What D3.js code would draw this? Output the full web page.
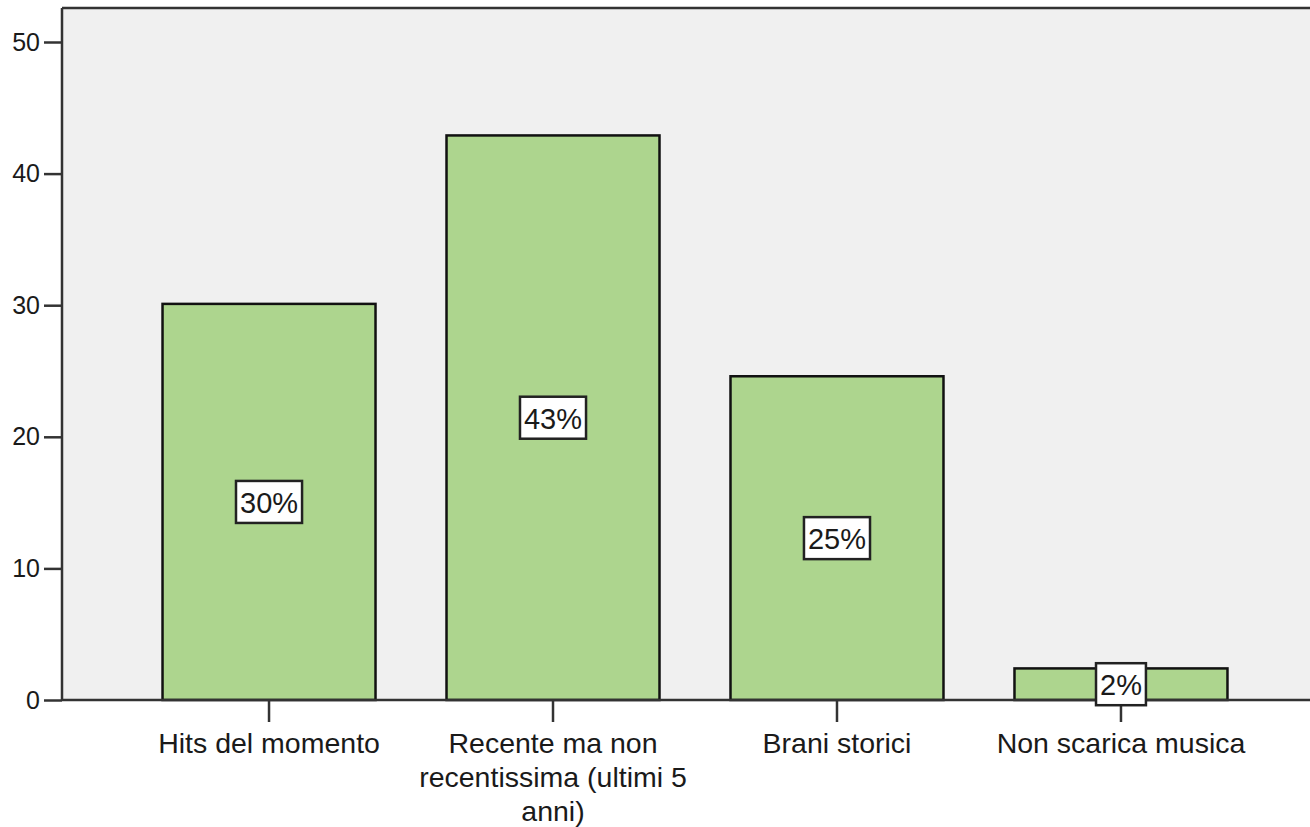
<!DOCTYPE html>
<html><head><meta charset="utf-8">
<script src="https://cdn.jsdelivr.net/npm/d3@7"></script>
<style>
html,body{margin:0;padding:0;background:#fff;}
svg{display:block;}
text{font-family:"Liberation Sans",Arial,sans-serif;fill:#1a1a1a;}
</style></head>
<body>
<svg id="chart" width="1310" height="827"></svg>
<script>
const categories = ["Hits del momento", "Recente ma non recentissima (ultimi 5 anni)", "Brani storici", "Non scarica musica"];
const categoryLines = [["Hits del momento"], ["Recente ma non", "recentissima (ultimi 5", "anni)"], ["Brani storici"], ["Non scarica musica"]];
const values = [30.1, 42.9, 24.6, 2.4];
const percentLabels = ["30%", "43%", "25%", "2%"];
const yTicks = [0, 10, 20, 30, 40, 50];

const svg = d3.select("#chart");
const plotLeft = 62, plotTop = 8, plotRight = 1328, plotBottom = 700;
const FONT = "Liberation Sans, Arial, sans-serif";

const x = d3.scaleBand().domain(categories).range([plotLeft, plotRight]).paddingInner(0.25).paddingOuter(0.354);
const y = d3.scaleLinear().domain([0, 50]).range([plotBottom, 42]);

// plot background
svg.append("rect").attr("x", plotLeft).attr("y", plotTop)
  .attr("width", 1310 - plotLeft + 10).attr("height", plotBottom - plotTop)
  .attr("fill", "#f0f0f0");

// bars
svg.selectAll("rect.bar").data(values).join("rect")
  .attr("class", "bar")
  .attr("x", (d, i) => x(categories[i]))
  .attr("y", d => y(d))
  .attr("width", x.bandwidth())
  .attr("height", d => y(0) - y(d))
  .attr("fill", "#add58e")
  .attr("stroke", "#111")
  .attr("stroke-width", 2.5);

// frame lines
svg.append("line").attr("x1", plotLeft).attr("x2", 1310).attr("y1", plotTop).attr("y2", plotTop)
  .attr("stroke", "#333").attr("stroke-width", 2.5);
svg.append("line").attr("x1", plotLeft).attr("x2", plotLeft).attr("y1", plotTop).attr("y2", plotBottom)
  .attr("stroke", "#333").attr("stroke-width", 2.5);

// y axis
const yAxis = d3.axisLeft(y).tickValues(yTicks).tickSize(18).tickPadding(4).tickSizeOuter(0);
const gy = svg.append("g").attr("transform", `translate(${plotLeft},0)`).call(yAxis);
gy.select(".domain").remove();
gy.selectAll(".tick line").attr("stroke", "#333").attr("stroke-width", 2.5);
gy.selectAll(".tick text").attr("font-size", 25).attr("fill", "#1a1a1a")
  .attr("font-family", FONT);

// x axis
const xAxis = d3.axisBottom(x).tickSize(22).tickSizeOuter(0).tickFormat("");
const gx = svg.append("g").attr("transform", `translate(0,${plotBottom})`).call(xAxis);
gx.select(".domain").remove();
gx.selectAll(".tick line").attr("stroke", "#333").attr("stroke-width", 2.5);
gx.selectAll(".tick").each(function(d, i) {
  const t = d3.select(this).append("text")
    .attr("text-anchor", "middle")
    .attr("font-size", 28.5)
    .attr("fill", "#1a1a1a")
    .attr("font-family", FONT);
  categoryLines[i].forEach((line, j) => {
    t.append("tspan").attr("x", 0).attr("y", 53 + j * 34).text(line);
  });
});

svg.append("line").attr("x1", plotLeft).attr("x2", 1310).attr("y1", plotBottom).attr("y2", plotBottom)
  .attr("stroke", "#333").attr("stroke-width", 2.5);

// percent labels
values.forEach((v, i) => {
  const cx = x(categories[i]) + x.bandwidth() / 2;
  const cy = y(v / 2);
  const g = svg.append("g");
  const txt = g.append("text").attr("x", cx).attr("y", cy + 11)
    .attr("text-anchor", "middle").attr("font-size", 29).attr("font-family", FONT)
    .text(percentLabels[i]);
  const w = txt.node().getComputedTextLength() + 8;
  g.insert("rect", "text").attr("x", cx - w / 2).attr("y", cy - 21)
    .attr("width", w).attr("height", 42)
    .attr("fill", "#fff").attr("stroke", "#222").attr("stroke-width", 2.5);
});
</script>
</body></html>
